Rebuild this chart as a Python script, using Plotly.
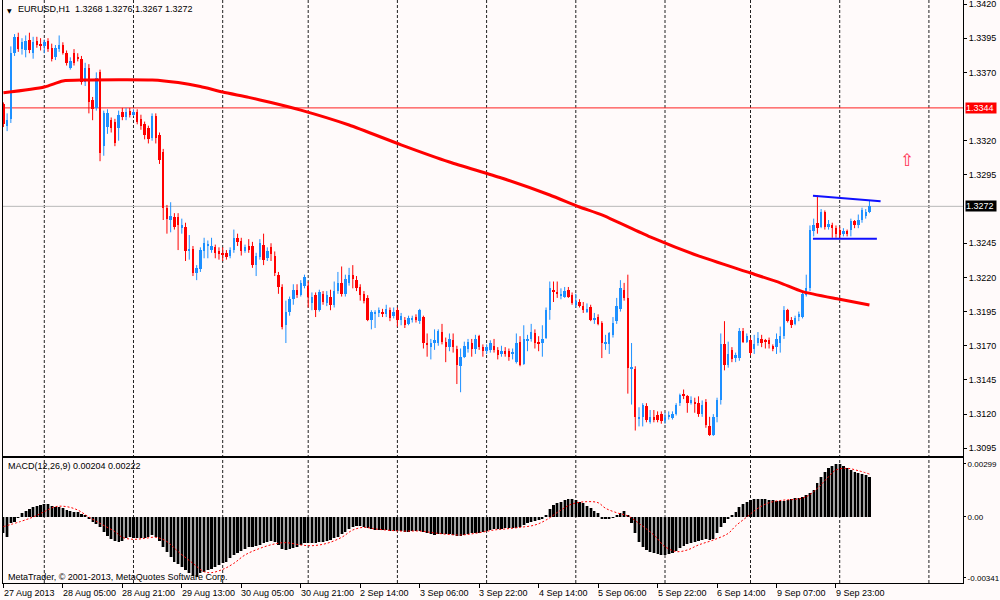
import plotly.graph_objects as go

# ---------------- data (prices in pips above 1.3000) ----------------
PIP_BASE = 1.3
opens_p = [347,331,336,384,396,387,386,394,384,393,391,389,393,388,381,387,390,384,373,384,
           381,380,363,373,350,344,370,316,330,335,334,329,341,337,342,339,341,336,332,329,
           322,338,324,312,271,262,264,264,256,257,239,241,223,226,239,243,240,242,239,238,
           238,236,240,249,247,239,243,243,229,235,244,234,242,236,222,213,185,195,204,211,
           207,214,214,201,207,196,208,201,206,200,210,216,208,216,222,218,213,208,205,189,
           193,194,195,193,196,192,196,189,189,186,189,191,188,191,172,169,172,172,180,173,
           169,174,168,155,162,168,172,168,177,169,166,167,170,167,164,166,166,164,158,173,
           157,174,175,179,173,172,176,196,211,209,207,206,211,207,200,202,199,195,198,189,
           191,187,171,171,178,188,197,211,205,153,153,117,118,126,114,118,119,120,115,118,
           117,120,128,135,133,128,129,128,120,129,111,105,118,130,171,156,167,161,161,181,
           173,174,168,172,175,174,174,170,169,172,177,196,189,186,191,191,207,212,254,260,
           257,268,257,258,256,255,252,254,255,261,258,262,265,268]
highs_p = [348,340,389,398,399,395,397,399,396,396,395,394,395,391,390,397,392,386,381,387,
           384,382,377,376,352,370,372,342,343,337,336,342,344,344,344,343,343,339,334,331,
           340,340,326,314,273,275,267,267,263,260,251,243,229,242,249,247,249,244,242,242,
           240,242,255,252,249,244,248,246,238,248,252,242,245,239,224,215,203,206,215,215,
           218,222,217,209,209,211,210,210,211,217,224,228,222,227,229,221,215,210,207,196,
           196,198,197,200,198,198,198,194,191,192,192,193,197,192,179,175,182,182,186,176,
           179,179,170,168,173,175,175,178,178,171,171,174,175,169,170,169,168,168,179,177,
           185,178,186,182,177,185,198,217,217,217,212,213,213,209,208,204,202,201,200,194,
           193,188,178,180,191,205,218,216,222,172,155,125,128,128,123,123,122,122,121,122,
           122,128,135,138,134,133,132,133,130,131,118,120,132,179,188,173,169,165,183,183,
           179,176,178,180,178,175,176,171,179,184,199,197,191,192,195,210,222,258,263,280,
           270,269,262,260,258,257,256,255,263,262,266,271,270,276]
lows_p = [330,327,333,382,385,383,381,384,380,388,386,384,385,378,379,385,383,375,372,375,
          378,361,360,340,335,342,305,309,325,326,316,320,335,335,337,338,332,328,321,318,
          320,318,303,262,252,253,255,240,252,232,233,221,218,224,234,234,238,234,233,232,
          233,234,238,243,236,238,238,227,221,233,229,232,232,221,208,182,172,192,200,205,
          206,212,198,196,191,195,200,199,196,198,208,206,206,214,212,210,203,201,188,182,
          183,191,191,191,188,190,184,185,183,185,187,187,186,168,162,160,167,170,171,158,
          166,165,142,136,161,165,162,164,167,162,164,165,165,160,162,162,159,160,157,155,
          156,166,173,168,166,162,175,189,202,205,204,205,205,200,198,198,194,194,188,186,
          185,161,167,164,176,186,195,203,135,127,108,111,111,114,113,114,114,113,113,116,
          116,119,126,131,121,127,121,118,118,110,104,104,114,127,152,154,158,158,159,172,
          172,163,164,170,169,168,168,166,164,165,175,187,183,185,188,190,206,210,250,252,
          256,255,255,249,249,249,250,250,250,256,256,260,263,267]
closes_p = [332,335,384,396,387,392,393,386,392,390,389,392,387,380,388,390,384,377,378,377,
            380,363,373,348,343,366,311,340,340,329,318,339,337,341,339,341,334,331,324,321,
            338,322,306,271,263,265,257,258,258,239,241,223,227,240,245,244,243,238,237,237,
            235,240,249,246,239,242,240,229,236,245,233,239,237,223,213,184,195,204,211,207,
            216,220,206,206,196,209,202,207,200,210,216,208,219,222,219,212,207,203,189,195,
            195,196,193,197,190,195,189,192,185,190,190,189,196,172,171,172,174,181,173,169,
            175,169,156,162,170,173,168,175,169,166,169,172,167,163,166,164,162,165,172,156,
            175,175,180,172,172,175,196,212,210,208,208,210,206,201,203,199,196,197,189,190,
            186,172,173,179,187,199,212,205,154,154,118,118,127,116,118,116,116,115,118,119,
            120,127,134,133,128,130,128,120,127,112,105,118,130,171,156,164,160,163,181,173,
            177,165,171,176,172,173,171,168,175,177,196,188,185,190,193,208,212,255,258,256,
            268,257,259,256,252,251,254,252,261,258,262,269,268,272]

# moving average (bar index, pips)
ma_idx = [0,11,16,22,40,47,53,59,66,72,80,93,107,120,134,147,155,161,174,187,201,209,215,225,233]
ma_p   = [355,359.3,363.7,364.4,364.4,362.5,359.6,355.6,351.7,347.9,342.4,331.5,317,304.4,292.7,
          280.3,271.5,265.7,249.6,235.7,223.2,216,209.6,204,199.8]

# MACD main (histogram) in units of 0.00001
macd_u = [-92,-114,-36,-26,-2,20,34,43,54,62,67,73,73,62,58,58,49,39,34,30,
          30,17,7,-7,-26,-39,-58,-82,-107,-125,-133,-138,-133,-120,-114,-120,-120,-116,-120,-114,
          -101,-114,-133,-166,-194,-222,-250,-264,-279,-297,-312,-331,-338,-316,-307,-297,-294,-282,-269,-260,
          -250,-232,-213,-200,-189,-181,-170,-166,-163,-157,-148,-138,-135,-138,-157,-181,-185,-181,-176,-166,
          -157,-148,-148,-148,-144,-138,-138,-133,-129,-120,-110,-95,-82,-67,-54,-50,-50,-54,-64,-69,
          -73,-73,-73,-73,-77,-77,-77,-77,-82,-82,-79,-79,-77,-82,-92,-97,-101,-97,-95,-97,
          -97,-101,-107,-107,-101,-95,-92,-92,-88,-86,-80,-72,-68,-67,-65,-64,-64,-64,-60,-54,
          -45,-36,-26,-21,-17,-13,11,43,67,80,86,95,101,101,95,86,77,62,49,36,
          21,-7,-7,-7,-4,11,24,34,11,-36,-92,-138,-166,-185,-194,-204,-209,-213,-213,-208,
          -200,-189,-176,-163,-151,-144,-138,-133,-129,-125,-129,-125,-92,-54,-32,-7,11,30,58,71,
          86,95,99,101,101,101,95,95,92,92,92,95,99,105,108,114,123,136,151,189,
          226,252,273,288,299,296,286,273,264,254,249,241,236,226]

# MACD signal (bar index, units of 0.00001)
sig_idx = [0,4.5,8,11,14,17,20,23,26,30,32,35,38,41,44,47,51,54,56,59,62,65,69,73,76,80,83,87,91,94,
           97,100,107,112,117,123,128,132,135,139,143,146,150,153,157,160,162,165,168,171,175,178,181,184,
           187,191,195,197,200,203,206,210,213,216,219,222,224,227,230,233]
sig_u = [-54,-26,0,30,58,58,39,0,-36,-82,-114,-125,-120,-114,-138,-194,-260,-307,-312,-294,-260,-213,
         -176,-151,-144,-157,-161,-148,-114,-73,-58,-67,-79,-79,-92,-101,-88,-73,-67,-58,-45,-17,39,73,
         86,80,49,24,6,-36,-101,-166,-194,-185,-157,-129,-92,-50,0,49,80,95,99,114,161,226,264,273,260,241]

# x-axis tick labels
xlabel_idx = [0,16,32,48,64,80,96,112,128,144,160,176,192,208,224]
xlabels = ['27 Aug 2013','28 Aug 05:00','28 Aug 21:00','29 Aug 13:00','30 Aug 05:00','30 Aug 21:00',
           '2 Sep 14:00','3 Sep 06:00','3 Sep 22:00','4 Sep 14:00','5 Sep 06:00','5 Sep 22:00',
           '6 Sep 14:00','9 Sep 07:00','9 Sep 23:00']
day_idx = [11,35,59,82,106,130,154,178,201,225,249]

# price axis ticks
price_ticks = [1.3095,1.3120,1.3145,1.3170,1.3195,1.3220,1.3245,1.3295,1.3320,1.3370,1.3395,1.3420]
macd_ticks = [0.00299,0.0,-0.00341]
macd_ticktext = ['0.00299','0.00','-0.00341']

level_price = 1.3344
bid_price = 1.3272
trend_up_idx = [217.8,236.0]
trend_up_price = [1.32798,1.32757]
trend_lo_idx = [217.8,235.0]
trend_lo_price = [1.32483,1.32483]
arrow_idx, arrow_price = 243, 1.3306

title_text = 'EURUSD,H1  1.3268 1.3276 1.3267 1.3272'
macd_text = 'MACD(12,26,9) 0.00204 0.00222'
copy_text = 'MetaTrader, © 2001-2013, MetaQuotes Software Corp.'

# ---------------- build ----------------
def px(v):
    return PIP_BASE + v / 10000.0

O = [px(v) for v in opens_p]
H = [px(v) for v in highs_p]
L = [px(v) for v in lows_p]
C = [px(v) for v in closes_p]
N = len(C)
idx = list(range(N))

UP = '#1e90ff'
DN = '#ff0000'
FONT = 'Liberation Sans, Arial, sans-serif'
XDOM = [0.003, 0.963]
XR = [-0.108, 258.17]

def xpaper(v):
    return XDOM[0] + (XDOM[1] - XDOM[0]) * (v - XR[0]) / (XR[1] - XR[0])

fig = go.Figure()

# wicks
for col, cond in ((UP, lambda i: C[i] >= O[i]), (DN, lambda i: C[i] < O[i])):
    wx, wy = [], []
    for i in idx:
        if cond(i):
            wx += [i, i, None]
            wy += [L[i], H[i], None]
    fig.add_trace(go.Scatter(x=wx, y=wy, mode='lines', line=dict(color=col, width=1),
                             hoverinfo='skip', xaxis='x', yaxis='y'))

# bodies
MINH = 0.00006
for col, cond in ((UP, lambda i: C[i] >= O[i]), (DN, lambda i: C[i] < O[i])):
    bx = [i for i in idx if cond(i)]
    base = [min(O[i], C[i]) for i in bx]
    hgt = [max(abs(C[i] - O[i]), MINH) for i in bx]
    fig.add_trace(go.Bar(x=bx, y=hgt, base=base, width=0.65, marker=dict(color=col, line=dict(width=0)),
                         xaxis='x', yaxis='y', hoverinfo='skip'))

# moving average
fig.add_trace(go.Scatter(x=ma_idx, y=[px(v) for v in ma_p], mode='lines',
                         line=dict(color='#ff0000', width=3, shape='spline', smoothing=0.6),
                         xaxis='x', yaxis='y', hoverinfo='skip'))

# trend lines
fig.add_trace(go.Scatter(x=trend_up_idx, y=trend_up_price, mode='lines', line=dict(color='#1010ff', width=2),
                         xaxis='x', yaxis='y'))
fig.add_trace(go.Scatter(x=trend_lo_idx, y=trend_lo_price, mode='lines', line=dict(color='#1010ff', width=2),
                         xaxis='x', yaxis='y'))

# MACD histogram
macd = [v / 100000.0 for v in macd_u]
fig.add_trace(go.Bar(x=idx, y=macd, width=1.0, marker=dict(color='#a0a0a0', line=dict(width=0)),
                     xaxis='x2', yaxis='y2', hoverinfo='skip'))
fig.add_trace(go.Bar(x=idx, y=macd, width=0.58, marker=dict(color='#000000', line=dict(width=0)),
                     xaxis='x2', yaxis='y2', hoverinfo='skip'))
fig.add_trace(go.Scatter(x=sig_idx, y=[v / 100000.0 for v in sig_u], mode='lines',
                         line=dict(color='#ff0000', width=1, dash='2px,2px', shape='spline'),
                         xaxis='x2', yaxis='y2', hoverinfo='skip'))

shapes = []
for d in day_idx:
    shapes.append(dict(type='line', xref='x', yref='paper', x0=d, x1=d, y0=0.02833, y1=1.0,
                       line=dict(color='#202020', width=1, dash='3px,2px'), layer='below'))
shapes.append(dict(type='line', xref='paper', yref='y', x0=XDOM[0], x1=XDOM[1], y0=level_price, y1=level_price,
                   line=dict(color='#ff2020', width=1), layer='below'))
shapes.append(dict(type='line', xref='paper', yref='y', x0=XDOM[0], x1=XDOM[1], y0=bid_price, y1=bid_price,
                   line=dict(color='#b8b8b8', width=1), layer='below'))

ann = []
ann.append(dict(xref='paper', yref='paper', x=0.0095, y=1 - 10 / 600, text='▼', showarrow=False,
                font=dict(family='DejaVu Sans', size=6, color='black'), xanchor='center', yanchor='middle'))
ann.append(dict(xref='paper', yref='paper', x=0.0155, y=1 - 9 / 600, text=title_text, showarrow=False,
                font=dict(family=FONT, size=9, color='black'), xanchor='left', yanchor='middle'))
ann.append(dict(xref='paper', yref='paper', x=0.0055, y=1 - 466 / 600, text=macd_text, showarrow=False,
                font=dict(family=FONT, size=9, color='black'), xanchor='left', yanchor='middle'))
ann.append(dict(xref='paper', yref='paper', x=0.0055, y=1 - 577 / 600, text=copy_text, showarrow=False,
                font=dict(family=FONT, size=9, color='black'), xanchor='left', yanchor='middle'))
for i, t in zip(xlabel_idx, xlabels):
    ann.append(dict(xref='paper', yref='paper', x=max(xpaper(i - 0.5), 0.0), y=1 - 592.5 / 600, text=t,
                    showarrow=False, font=dict(family=FONT, size=9, color='black'),
                    xanchor='left', yanchor='middle'))
ann.append(dict(xref='paper', yref='y', x=0.965, y=level_price, text='1.3344', showarrow=False,
                bgcolor='#ff0000', font=dict(family=FONT, size=9, color='white'), xanchor='left',
                yanchor='middle', width=30, height=10, borderpad=0, align='left'))
ann.append(dict(xref='paper', yref='y', x=0.965, y=bid_price, text='1.3272', showarrow=False,
                bgcolor='#000000', font=dict(family=FONT, size=9, color='white'), xanchor='left',
                yanchor='middle', width=30, height=10, borderpad=0, align='left'))
ann.append(dict(xref='x', yref='y', x=arrow_idx, y=arrow_price, text='⇧', showarrow=False,
                font=dict(family='DejaVu Sans', size=17, color='#ff3050'), xanchor='center', yanchor='middle'))

axis_common = dict(showgrid=False, zeroline=False, showline=True, mirror=True, linecolor='black',
                   linewidth=1, fixedrange=True)

fig.update_layout(
    width=1000, height=600, margin=dict(l=0, r=0, t=0, b=0),
    paper_bgcolor='#fffafa', plot_bgcolor='#fffafa',
    showlegend=False, barmode='overlay', bargap=0,
    shapes=shapes, annotations=ann,
    xaxis=dict(domain=XDOM, range=XR, anchor='y', showticklabels=False, ticks='', **axis_common),
    yaxis=dict(domain=[0.24, 1.0], range=[1.308936, 1.342293], anchor='x', side='right',
               tickvals=price_ticks, ticktext=['%.4f' % v for v in price_ticks],
               ticks='outside', ticklen=3, tickcolor='black', ticklabeloverflow='allow',
               tickfont=dict(family=FONT, size=9, color='black'), automargin=False, **axis_common),
    xaxis2=dict(domain=XDOM, range=XR, anchor='y2', tickvals=xlabel_idx,
                ticktext=[''] * len(xlabel_idx), ticks='outside', ticklen=4, tickcolor='black',
                automargin=False, **axis_common),
    yaxis2=dict(domain=[0.02833, 0.23667], range=[-0.003703, 0.00331], anchor='x2', side='right',
                tickvals=macd_ticks, ticktext=macd_ticktext, ticks='outside', ticklen=2, tickcolor='black',
                ticklabeloverflow='allow',
                tickfont=dict(family=FONT, size=8, color='black'), automargin=False, **axis_common),
)

fig.write_html('out.html', config={'displayModeBar': False},
               post_script="document.body.style.margin='0';document.body.style.padding='0';"
                           "document.documentElement.style.overflow='hidden';"
                           "document.body.style.overflow='hidden';")
